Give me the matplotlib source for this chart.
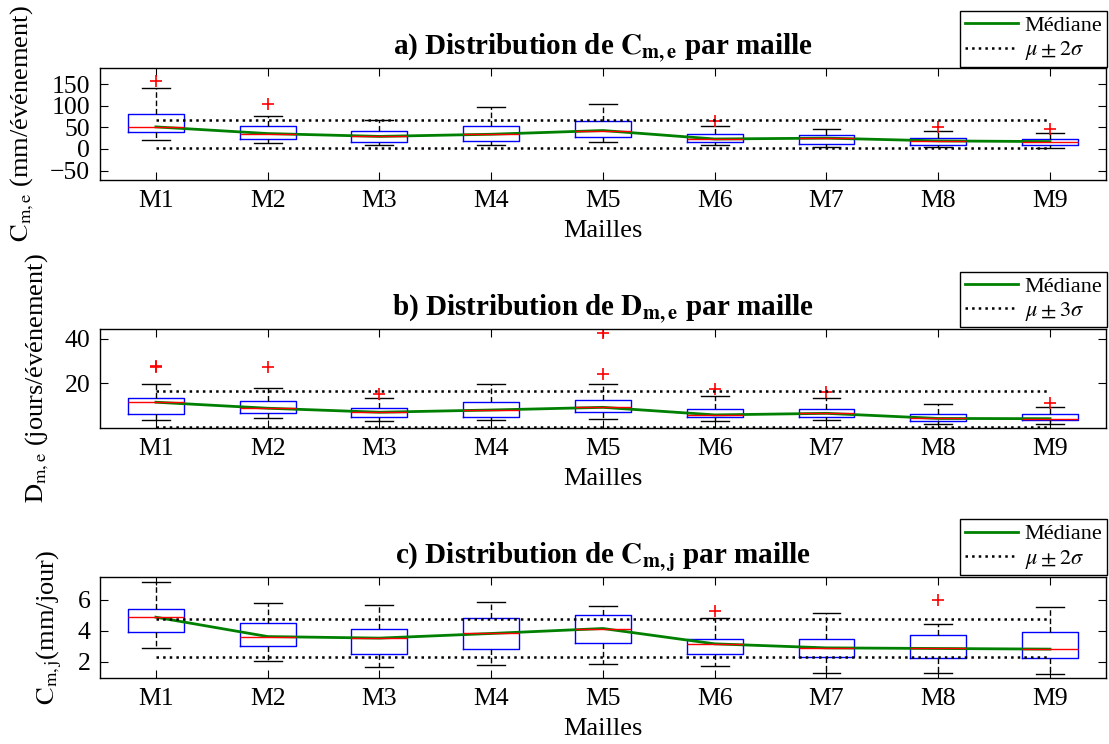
import matplotlib
matplotlib.use("Agg")
import matplotlib.pyplot as plt

plt.rcParams["font.family"] = ["Liberation Serif", "DejaVu Serif"]
plt.rcParams["mathtext.fontset"] = "stix"

mailles = ["M1", "M2", "M3", "M4", "M5", "M6", "M7", "M8", "M9"]

# a) C_m,e (mm/evenement)
a_q1 = [39, 22.5, 17, 18.6, 27, 15, 12.4, 9.3, 9.3]
a_med = [51, 35.6, 29, 34, 42.6, 23, 25, 18.6, 17]
a_q3 = [82, 52, 42, 52, 63.5, 34, 32.5, 25, 23]
a_lo = [20, 13, 8.6, 10, 15.5, 8.6, 5.4, 4, 2.3]
a_hi = [140, 76, 67, 97, 103, 53.5, 46, 42.6, 37]
a_out = [[158], [104], [], [], [], [65], [], [51], [46]]
a_band = (67, 2)

# b) D_m,e (jours/evenement)
b_q1 = [6.2, 6.7, 5.0, 4.7, 7.3, 4.7, 4.7, 3.2, 3.3]
b_med = [11.5, 8.8, 7.0, 8.0, 9.2, 5.8, 6.5, 4.2, 4.1]
b_q3 = [13.5, 12.0, 8.8, 11.7, 12.3, 8.5, 8.5, 6.0, 6.2]
b_lo = [3.5, 4.5, 3.2, 3.5, 3.8, 3.2, 3.3, 1.7, 1.7]
b_hi = [19.8, 18.0, 13.5, 19.5, 19.8, 14.4, 13.2, 10.9, 9.4]
b_out = [[27.2, 28.0], [27.3], [15.3], [], [42.6, 24.1], [17.6], [16.0], [], [11.0]]
b_band = (16.4, 0.3)

# c) C_m,j (mm/jour)
c_q1 = [3.92, 3.0, 2.5, 2.84, 3.2, 2.52, 2.3, 2.26, 2.26]
c_med = [4.88, 3.63, 3.53, 3.83, 4.15, 3.16, 2.9, 2.86, 2.82]
c_q3 = [5.44, 4.5, 4.15, 4.82, 5.0, 3.5, 3.46, 3.72, 3.92]
c_lo = [2.9, 2.06, 1.66, 1.8, 1.85, 1.72, 1.29, 1.25, 1.2]
c_hi = [7.14, 5.8, 5.66, 5.83, 5.63, 4.84, 5.18, 4.43, 5.53]
c_out = [[], [], [], [], [], [5.3], [], [6.0], []]
c_band = (4.75, 2.3)

panels = [
    (a_q1, a_med, a_q3, a_lo, a_hi, a_out, a_band,
     r"a) Distribution de $\mathbf{C_{m,e}}$ par maille",
     r"$\mathrm{C_{m,e}}$ (mm/événement)", r"$\mu \pm 2\sigma$",
     (-72, 188), [-50, 0, 50, 100, 150]),
    (b_q1, b_med, b_q3, b_lo, b_hi, b_out, b_band,
     r"b) Distribution de $\mathbf{D_{m,e}}$ par maille",
     r"$\mathrm{D_{m,e}}$ (jours/événement)", r"$\mu \pm 3\sigma$",
     (0, 44.5), [20, 40]),
    (c_q1, c_med, c_q3, c_lo, c_hi, c_out, c_band,
     r"c) Distribution de $\mathbf{C_{m,j}}$ par maille",
     r"$\mathrm{C_{m,j}}$(mm/jour)", r"$\mu \pm 2\sigma$",
     (0.97, 7.5), [2, 4, 6]),
]

# axes rectangles in figure fractions: left, bottom, width, height
rects = [(0.0902, 0.758, 0.907, 0.151),
         (0.0902, 0.425, 0.907, 0.133),
         (0.0902, 0.089, 0.907, 0.136)]
leg_tops = [0.985, 0.635, 0.302]

fig = plt.figure(figsize=(11.09, 7.44), dpi=100)
pos = list(range(1, len(mailles) + 1))

for i, (q1, med, q3, lo, hi, out, band, title, ylab, leglab, ylim, yt) in enumerate(panels):
    ax = fig.add_axes(rects[i])
    stats = []
    for k in range(len(mailles)):
        stats.append({"q1": q1[k], "med": med[k], "q3": q3[k],
                      "whislo": lo[k], "whishi": hi[k], "fliers": out[k]})
    ax.bxp(stats, positions=pos, widths=0.5, showfliers=True,
           boxprops=dict(color="blue", linewidth=1),
           medianprops=dict(color="red", linewidth=1),
           whiskerprops=dict(color="black", linewidth=1, linestyle=(0, (4, 2))),
           capprops=dict(color="black", linewidth=1),
           capwidths=0.25,
           flierprops=dict(marker="+", markeredgecolor="red", markersize=9,
                           markeredgewidth=1.2, linestyle="none"))
    ln_med, = ax.plot(pos, med, color="green", linewidth=2, label="Médiane")
    ln_band, = ax.plot(pos, [band[0]] * len(pos), color="black", linestyle=":",
                       linewidth=1.8, label=leglab)
    ax.plot(pos, [band[1]] * len(pos), color="black", linestyle=":", linewidth=1.8)

    ax.set_xlim(0.5, 9.5)
    ax.set_ylim(*ylim)
    ax.set_yticks(yt)
    ax.set_xticks(pos)
    ax.set_xticklabels(mailles)
    ax.tick_params(direction="in", top=True, right=True, labelsize=18.5, length=6, pad=7)
    for s in ax.spines.values():
        s.set_linewidth(1)
    ax.set_title(title, fontsize=21, fontweight="bold", pad=10)
    ax.set_xlabel("Mailles", fontsize=19, labelpad=6)
    ax.set_ylabel(ylab, fontsize=19, labelpad=10)

    fig.legend(handles=[ln_med, ln_band], loc="upper right",
               bbox_to_anchor=(0.998, leg_tops[i]), fontsize=16,
               frameon=True, fancybox=False, edgecolor="black",
               framealpha=1, handlelength=2.4, borderpad=0.2,
               labelspacing=0.15, handletextpad=0.3, borderaxespad=0)

fig.savefig("out.png", dpi=100)
